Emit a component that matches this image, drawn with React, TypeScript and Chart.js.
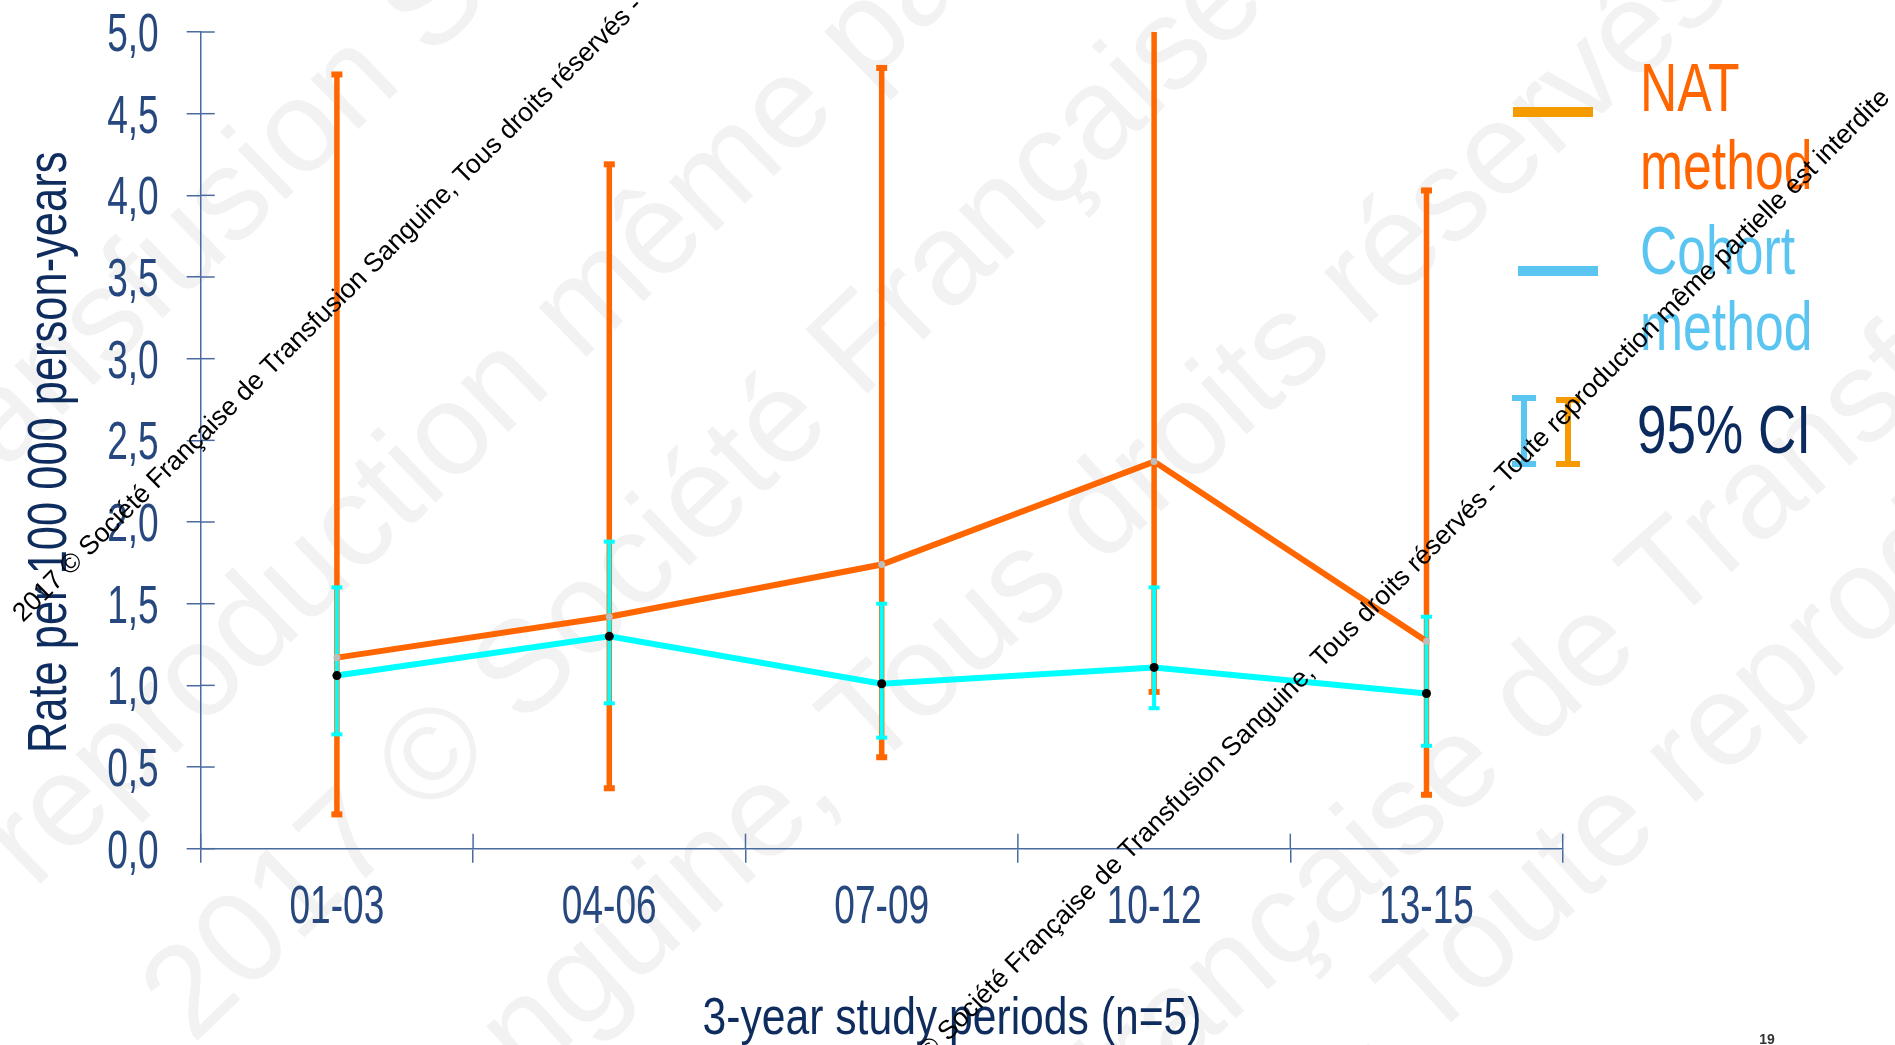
import React, { useEffect, useRef } from "react";
import { Chart, registerables } from "chart.js";

Chart.register(...registerables);

const W = 1895;
const H = 1045;

// ---------- data ----------
const categories = ["01-03", "04-06", "07-09", "10-12", "13-15"];
const natRate = [1.17, 1.42, 1.74, 2.37, 1.27];
const natLow = [0.21, 0.37, 0.56, 0.96, 0.33];
const natHigh = [4.74, 4.19, 4.78, 5.4, 4.03];
const cohortRate = [1.06, 1.3, 1.01, 1.11, 0.95];
const cohortLow = [0.7, 0.89, 0.68, 0.86, 0.63];
const cohortHigh = [1.6, 1.88, 1.5, 1.6, 1.42];
const yTickLabels = ["0,0", "0,5", "1,0", "1,5", "2,0", "2,5", "3,0", "3,5", "4,0", "4,5", "5,0"];
const yTitle = "Rate per 100 000 person-years";
const xTitle = "3-year study periods (n=5)";
const legendNat = ["NAT", "method"];
const legendCohort = ["Cohort", "method"];
const legendCI = "95% CI";
const pageNumber = "19";
const watermark =
  "2017 © Société Française de Transfusion Sanguine, Tous droits réservés - Toute reproduction même partielle est interdite";

// ---------- styles ----------
const ORANGE = "#FF6600";
const CYAN = "#00FFFF";
const LEG_ORANGE = "#F59B00";
const LEG_BLUE = "#5BC5F2";
const AXIS = "#4A6BA0";
const TICK = "#27487E";
const TITLE = "#0E2C5E";
const NAVY = "#0B2A5E";
const SANS = `"Liberation Sans", Arial, Helvetica, sans-serif`;

function rotText(
  ctx: CanvasRenderingContext2D,
  text: string,
  anchor: string,
  ax: number,
  ay: number,
  deg: number,
  font: string,
  color: string
) {
  ctx.save();
  ctx.font = font;
  const idx = Math.max(0, text.indexOf(anchor));
  const pre = ctx.measureText(text.slice(0, idx)).width;
  ctx.translate(ax, ay);
  ctx.rotate((deg * Math.PI) / 180);
  ctx.fillStyle = color;
  ctx.textAlign = "left";
  ctx.textBaseline = "alphabetic";
  ctx.fillText(text, -pre, 0);
  ctx.restore();
}

// narrow (horizontally condensed) text
function nText(
  ctx: CanvasRenderingContext2D,
  text: string,
  x: number,
  y: number,
  size: number,
  k: number,
  color: string,
  align: CanvasTextAlign = "left",
  baseline: CanvasTextBaseline = "alphabetic",
  rotate = 0
) {
  ctx.save();
  ctx.translate(x, y);
  if (rotate) ctx.rotate(rotate);
  ctx.scale(k, 1);
  ctx.font = `${size}px ${SANS}`;
  ctx.fillStyle = color;
  ctx.textAlign = align;
  ctx.textBaseline = baseline;
  ctx.fillText(text, 0, 0);
  ctx.restore();
}

export default function App() {
  const ref = useRef<HTMLCanvasElement | null>(null);

  useEffect(() => {
    const canvas = ref.current;
    if (!canvas) return;

    const bgPlugin = {
      id: "bg",
      beforeDraw(chart: any) {
        const ctx: CanvasRenderingContext2D = chart.ctx;
        ctx.save();
        ctx.fillStyle = "#ffffff";
        ctx.fillRect(0, 0, chart.width, chart.height);
        ctx.restore();
        const big = `130px ${SANS}`;
        const g = "#F2F2F2";
        const t = watermark + "   " + watermark + "   " + watermark;
        rotText(ctx, t, "Sanguine, Tous", 430, 60, -44, big, g);
        rotText(ctx, t, "même partielle", 580, 363, -44, big, g);
        rotText(ctx, t, "ine, Tous", 687, 938, -42, big, g);
        rotText(ctx, t, "de Transfusion", 1535, 749, -42, big, g);
        rotText(ctx, t, "Toute reproduction", 1426, 1045, -42, big, g);
        rotText(ctx, t, "2017 ©", 193, 1045, -44, big, g);
      },
    };

    const barPlugin = {
      id: "errbars",
      beforeDatasetsDraw(chart: any) {
        const ctx: CanvasRenderingContext2D = chart.ctx;
        const { chartArea } = chart;
        const x = chart.scales.x;
        const y = chart.scales.y;
        ctx.save();
        // inner halves of the crossing tick marks
        ctx.strokeStyle = AXIS;
        ctx.lineWidth = 1.5;
        y.ticks.forEach((_t: any, i: number) => {
          const py = y.getPixelForTick(i);
          ctx.beginPath();
          ctx.moveTo(chartArea.left, py);
          ctx.lineTo(chartArea.left + 14, py);
          ctx.stroke();
        });
        for (let i = 0; i <= categories.length; i++) {
          let px: number;
          if (i === 0) px = chartArea.left;
          else if (i === categories.length) px = chartArea.right;
          else px = (x.getPixelForValue(i - 1) + x.getPixelForValue(i)) / 2;
          ctx.beginPath();
          ctx.moveTo(px, chartArea.bottom);
          ctx.lineTo(px, chartArea.bottom - 15);
          ctx.stroke();
        }
        ctx.beginPath();
        ctx.rect(chartArea.left, chartArea.top, chartArea.right - chartArea.left, chartArea.bottom - chartArea.top);
        ctx.clip();
        const bars = (lo: number[], hi: number[], color: string, stem: number, capW: number, capH: number) => {
          ctx.fillStyle = color;
          lo.forEach((l, i) => {
            const px = x.getPixelForValue(i);
            const yl = y.getPixelForValue(l);
            const yh = y.getPixelForValue(hi[i]);
            ctx.fillRect(px - stem / 2, yh, stem, yl - yh);
            if (hi[i] <= y.max) ctx.fillRect(px - capW / 2, yh - capH / 2, capW, capH);
            if (l >= y.min) ctx.fillRect(px - capW / 2, yl - capH / 2, capW, capH);
          });
        };
        bars(natLow, natHigh, ORANGE, 5.5, 11, 6);
        bars(cohortLow, cohortHigh, CYAN, 4, 11, 4);
        ctx.restore();
      },
    };

    const overlayPlugin = {
      id: "overlay",
      afterDraw(chart: any) {
        const ctx: CanvasRenderingContext2D = chart.ctx;
        const { chartArea } = chart;
        const x = chart.scales.x;
        const y = chart.scales.y;

        // tick labels (positions from the library's scales)
        y.ticks.forEach((t: any, i: number) => {
          const py = y.getPixelForValue(t.value);
          nText(ctx, yTickLabels[i], chartArea.left - 42, py + 19, 53, 0.7, TICK, "right");
        });
        categories.forEach((c, i) => {
          const px = x.getPixelForValue(i);
          nText(ctx, c, px, 923, 53, 0.7, TICK, "center");
        });

        // axis titles
        nText(ctx, yTitle, 51, (chartArea.top + chartArea.bottom) / 2 + 12, 55, 0.79, TITLE, "center", "middle", -Math.PI / 2);
        nText(ctx, xTitle, 952, 1034, 52, 0.82, TITLE, "center");

        // legend
        nText(ctx, legendNat[0], 1640, 111, 68, 0.76, ORANGE);
        nText(ctx, legendNat[1], 1640, 189, 68, 0.76, ORANGE);
        nText(ctx, legendCohort[0], 1640, 274, 68, 0.76, LEG_BLUE);
        nText(ctx, legendCohort[1], 1640, 350, 68, 0.76, LEG_BLUE);
        nText(ctx, legendCI, 1637, 453, 68, 0.78, NAVY);

        ctx.save();
        ctx.fillStyle = LEG_ORANGE;
        ctx.fillRect(1513, 107, 80, 10);
        ctx.fillStyle = LEG_BLUE;
        ctx.fillRect(1518, 266, 80, 10);
        // CI icons
        ctx.fillStyle = LEG_BLUE;
        ctx.fillRect(1512, 395, 24, 6);
        ctx.fillRect(1521, 395, 6, 72);
        ctx.fillRect(1512, 461, 24, 6);
        ctx.fillStyle = LEG_ORANGE;
        ctx.fillRect(1556, 397, 24, 6);
        ctx.fillRect(1565, 397, 6, 70);
        ctx.fillRect(1556, 461, 24, 6);

        // page number
        ctx.font = `bold 14px ${SANS}`;
        ctx.fillStyle = "#333333";
        ctx.textAlign = "center";
        ctx.textBaseline = "alphabetic";
        ctx.fillText(pageNumber, 1767, 1044);
        ctx.restore();

        // black watermark lines
        const small = `26.5px ${SANS}`;
        rotText(ctx, watermark, "2017", 23, 623, -44.8, small, "#000000");
        rotText(ctx, watermark, "- Toute", 1494, 496, -45, small, "#000000");
      },
    };

    const chart = new Chart(canvas, {
      type: "line",
      data: {
        labels: categories,
        datasets: [
          {
            label: "Cohort method",
            data: cohortRate,
            borderColor: CYAN,
            backgroundColor: CYAN,
            borderWidth: 6,
            pointRadius: 4.5,
            pointHoverRadius: 4.5,
            pointBackgroundColor: "#000000",
            pointBorderWidth: 0,
            tension: 0,
            order: 1,
          },
          {
            label: "NAT method",
            data: natRate,
            borderColor: ORANGE,
            backgroundColor: ORANGE,
            borderWidth: 6,
            pointRadius: 3.5,
            pointHoverRadius: 3.5,
            pointBackgroundColor: "#BDBDBD",
            pointBorderWidth: 0,
            tension: 0,
            order: 2,
          },
        ],
      },
      options: {
        responsive: false,
        maintainAspectRatio: false,
        animation: false,
        devicePixelRatio: 1,
        events: [],
        layout: { padding: { left: 0, top: 32, right: W - 1562.7, bottom: 0 } },
        plugins: { legend: { display: false }, tooltip: { enabled: false }, title: { display: false } },
        scales: {
          x: {
            type: "category",
            offset: true,
            grid: {
              offset: true,
              drawOnChartArea: false,
              drawTicks: true,
              tickLength: 14,
              color: AXIS,
              lineWidth: 1.5,
            },
            border: { display: true, color: AXIS, width: 1.5 },
            ticks: { display: false, autoSkip: false },
            afterFit: (s: any) => {
              s.height = H - 848.7;
            },
          },
          y: {
            min: 0,
            max: 5,
            grid: {
              drawOnChartArea: false,
              drawTicks: true,
              tickLength: 14,
              color: AXIS,
              lineWidth: 1.5,
            },
            border: { display: true, color: AXIS, width: 1.5 },
            ticks: {
              display: false,
              stepSize: 0.5,
              callback: (_v: any, i: number) => yTickLabels[i],
            },
            afterFit: (s: any) => {
              s.width = 200.7;
            },
          },
        },
      } as any,
      plugins: [bgPlugin, barPlugin, overlayPlugin],
    });

    return () => chart.destroy();
  }, []);

  return (
    <div style={{ position: "fixed", left: 0, top: 0, width: W, height: H, background: "#fff" }}>
      <canvas ref={ref} width={W} height={H} style={{ display: "block", width: W, height: H }} />
    </div>
  );
}
